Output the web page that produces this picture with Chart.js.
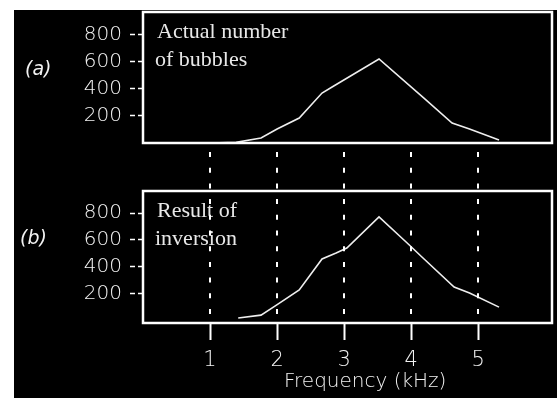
<!DOCTYPE html>
<html>
<head>
<meta charset="utf-8">
<script src="https://cdn.jsdelivr.net/npm/chart.js@4/dist/chart.umd.min.js"></script>
<style>
  html, body { margin: 0; padding: 0; background: #fff; width: 557px; height: 399px; overflow: hidden; }
  #frame { position: absolute; left: 14px; top: 10px; width: 543px; height: 388px; background: #000; }
  canvas { position: absolute; left: 0; }
  #panelA { top: 0; }
  #panelB { top: 144px; }
</style>
</head>
<body>
<div id="frame"></div>
<canvas id="panelA" width="557" height="150"></canvas>
<canvas id="panelB" width="557" height="255"></canvas>
<script>
// (a) actual number of bubbles per frequency
const freqActual  = [1.00, 1.39, 1.76, 2.00, 2.33, 2.67, 2.82, 3.52, 4.19, 4.61, 4.87, 5.31];
const countActual = [0,    5,    37,   104,  185,  370,  415,  622,  333,  148,  104,  22];

// (b) result of the inversion
const freqInverted  = [1.42, 1.76, 1.99, 2.33, 2.67, 2.88, 3.04, 3.52, 3.94, 4.16, 4.64, 4.87, 5.31];
const countInverted = [15,   37,   112,  225,  457,  502,  539,  772,  577,  472,  247,  202,  97];

const yTickValues = [200, 400, 600, 800];
const xTickValues = [1, 2, 3, 4, 5];

const panelLabels = ['(a)', '(b)'];
const panelTitles = [['Actual number', 'of bubbles'], ['Result of', 'inversion']];
const xAxisTitle = 'Frequency (kHz)';

const SANS = 'DejaVu Sans';
const SERIF = 'Liberation Serif';

function toPoints(xs, ys) {
  return xs.map((x, i) => ({ x, y: ys[i] }));
}

function noScalePadding(s) {
  s.paddingTop = 0; s.paddingBottom = 0; s.paddingLeft = 0; s.paddingRight = 0;
}

function yAxis(min, max) {
  return {
    type: 'linear', min, max,
    afterFit(s) { s.width = 143; noScalePadding(s); },
    afterBuildTicks(s) { s.ticks = yTickValues.map(v => ({ value: v })); },
    border: { display: false },
    grid: { drawOnChartArea: false, drawTicks: true, tickLength: 13, tickColor: '#fff', tickWidth: 1.5, tickBorderDash: [5, 3] },
    ticks: { color: '#f2f2f2', padding: 8, font: { family: SANS, size: 20, weight: 200 } }
  };
}

function lineDataset(xs, ys) {
  return {
    data: toPoints(xs, ys),
    showLine: true,
    borderColor: '#eeeeee',
    borderWidth: 1.6,
    pointRadius: 0,
    tension: 0,
    fill: false
  };
}

// white frame round the plotting area plus the in-panel caption
function panelDecor(idx, labelPos) {
  return {
    id: 'decor' + idx,
    afterDraw(chart) {
      const { ctx, chartArea: a } = chart;
      ctx.save();
      ctx.strokeStyle = '#fff';
      ctx.lineWidth = 2.5;
      ctx.strokeRect(a.left, a.top, a.right - a.left, a.bottom - a.top);

      ctx.fillStyle = '#e8e8e8';
      ctx.font = '22px "' + SERIF + '"';
      ctx.textBaseline = 'alphabetic';
      ctx.textAlign = 'left';
      const lines = panelTitles[idx];
      ctx.fillText(lines[0], a.left + 14, a.top + 26);
      ctx.fillText(lines[1], a.left + 12, a.top + 54);

      ctx.fillStyle = '#f2f2f2';
      ctx.font = 'italic 19px "' + SANS + '"';
      ctx.textBaseline = 'middle';
      ctx.fillText(panelLabels[idx], labelPos.x, labelPos.y);
      ctx.restore();
    }
  };
}

// dashed frequency guides running up from the lower axis, plus the axis title
const guides = {
  id: 'guides',
  afterDraw(chart) {
    const { ctx, chartArea: a } = chart;
    const xs = chart.scales.x;
    ctx.save();
    ctx.strokeStyle = '#fff';
    ctx.lineWidth = 2;
    ctx.setLineDash([5, 10.7]);
    xTickValues.forEach(v => {
      const px = Math.round(xs.getPixelForValue(v));
      ctx.beginPath();
      ctx.moveTo(px, 8);
      ctx.lineTo(px, a.bottom);
      ctx.stroke();
    });
    ctx.setLineDash([]);
    ctx.fillStyle = '#f2f2f2';
    ctx.font = '200 20px "' + SANS + '"';
    ctx.textBaseline = 'middle';
    ctx.textAlign = 'left';
    ctx.fillText(xAxisTitle, 284, 238);
    ctx.restore();
  }
};

const common = {
  responsive: false,
  animation: false,
  devicePixelRatio: 1,
  plugins: { legend: { display: false }, tooltip: { enabled: false } }
};

new Chart(document.getElementById('panelA'), {
  type: 'scatter',
  data: { datasets: [lineDataset(freqActual, countActual)] },
  options: Object.assign({}, common, {
    layout: { padding: { top: 12, right: 5, bottom: 7, left: 0 } },
    scales: {
      x: { type: 'linear', min: 0, max: 6.1, display: false },
      y: yAxis(0, 970)
    }
  }),
  plugins: [panelDecor(0, { x: 25, y: 70 })]
});

new Chart(document.getElementById('panelB'), {
  type: 'scatter',
  data: { datasets: [lineDataset(freqInverted, countInverted)] },
  options: Object.assign({}, common, {
    layout: { padding: { top: 47, right: 5, bottom: 0, left: 0 } },
    scales: {
      x: {
        type: 'linear', min: 0, max: 6.1,
        afterFit(s) { s.height = 76; noScalePadding(s); },
        afterBuildTicks(s) { s.ticks = xTickValues.map(v => ({ value: v })); },
        border: { display: false },
        grid: { drawOnChartArea: false, tickLength: 17, tickColor: '#fff', tickWidth: 2 },
        ticks: { color: '#f2f2f2', padding: 8, autoSkip: false, maxRotation: 0, font: { family: SANS, size: 21, weight: 200 } }
      },
      y: yAxis(-22, 966)
    }
  }),
  plugins: [panelDecor(1, { x: 20, y: 95 }), guides]
});
</script>
</body>
</html>
